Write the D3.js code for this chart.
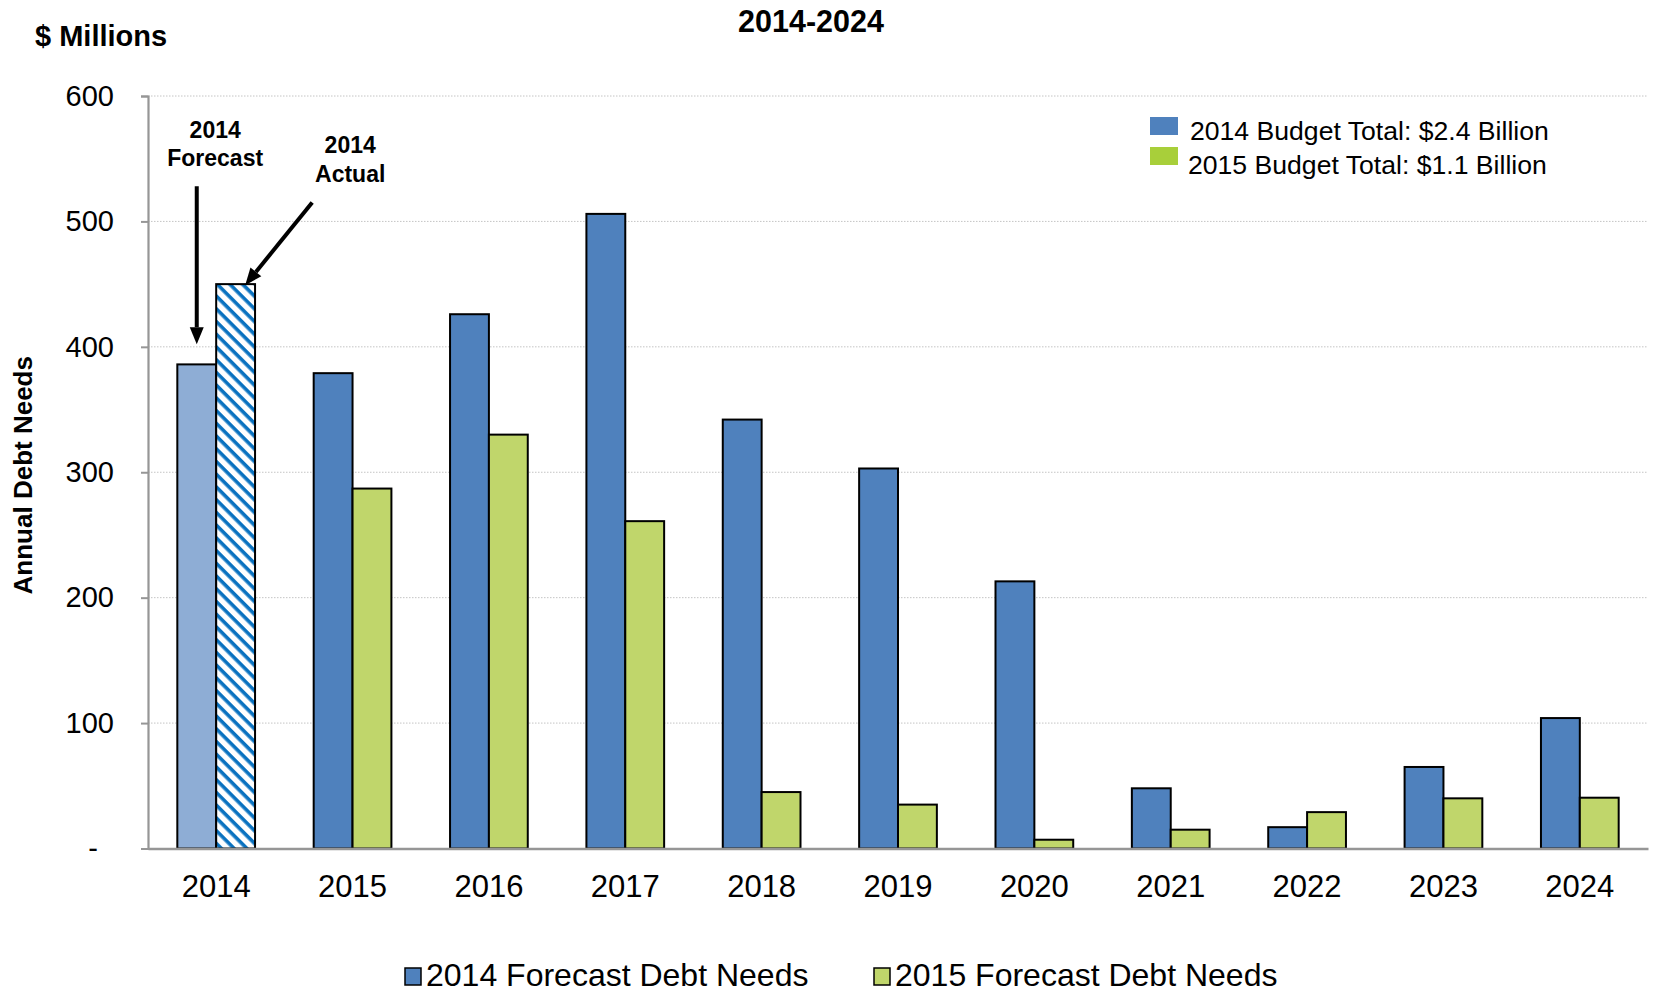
<!DOCTYPE html>
<html>
<head>
<meta charset="utf-8">
<script src="https://cdn.jsdelivr.net/npm/d3@7/dist/d3.min.js"></script>
<style>
  html, body { margin: 0; padding: 0; background: #fff; }
  svg { display: block; font-family: "Liberation Sans", Arial, sans-serif; }
</style>
</head>
<body>
<svg id="chart" width="1653" height="993"></svg>
<script>
// Annual debt needs, $ millions
const years = ["2014", "2015", "2016", "2017", "2018", "2019", "2020", "2021", "2022", "2023", "2024"];
const forecast2014 = [386, 379, 426, 506, 342, 303, 213, 48, 17, 65, 104];
const forecast2015 = [null, 287, 330, 261, 45, 35, 7, 15, 29, 40, 40.5];
const actual2014 = 450;
const yTicks = [0, 100, 200, 300, 400, 500, 600];
const seriesNames = ["2014 Forecast Debt Needs", "2015 Forecast Debt Needs"];
const budgetNotes = ["2014 Budget Total: $2.4 Billion", "2015 Budget Total: $1.1 Billion"];

const W = 1653, H = 993;
const margin = { top: 96, right: 5, bottom: 144.5, left: 148 };
const blue = "#4f81bd", lightBlue = "#8eadd5", green = "#c0d66b", brightGreen = "#a8cf3a", hatchBlue = "#0a72c0";

const svg = d3.select("#chart");

const defs = svg.append("defs");
const pat = defs.append("pattern")
  .attr("id", "hatch")
  .attr("patternUnits", "userSpaceOnUse")
  .attr("width", 9).attr("height", 9)
  .attr("patternTransform", "rotate(45)");
pat.append("rect").attr("width", 9).attr("height", 9).attr("fill", "#fff");
pat.append("rect").attr("width", 9).attr("height", 3.6).attr("fill", hatchBlue);

const x0 = d3.scaleBand()
  .domain(years)
  .range([margin.left, W - margin.right])
  .paddingInner(0.43)
  .paddingOuter(0.215);
const x1 = d3.scaleBand().domain(["a", "b"]).range([0, x0.bandwidth()]);
const y = d3.scaleLinear().domain([0, 600]).range([H - margin.bottom, margin.top]);

// gridlines
svg.append("g")
  .selectAll("line")
  .data(yTicks.filter(d => d > 0))
  .join("line")
  .attr("x1", margin.left).attr("x2", W - margin.right)
  .attr("y1", d => y(d)).attr("y2", d => y(d))
  .attr("stroke", "#c4c4c4")
  .attr("stroke-width", 1)
  .attr("stroke-dasharray", "1.5,1.5");

// bars
const rows = years.map((yr, i) => ({
  year: yr,
  a: forecast2014[i],
  b: i === 0 ? actual2014 : forecast2015[i],
  first: i === 0
}));

const groups = svg.append("g").selectAll("g")
  .data(rows)
  .join("g")
  .attr("transform", d => `translate(${x0(d.year)},0)`);

groups.append("rect")
  .attr("x", x1("a"))
  .attr("width", x1.bandwidth())
  .attr("y", d => y(d.a))
  .attr("height", d => y(0) - y(d.a))
  .attr("fill", d => d.first ? lightBlue : blue)
  .attr("stroke", "#000")
  .attr("stroke-width", 2);

groups.filter(d => d.b != null).append("rect")
  .attr("x", x1("b"))
  .attr("width", x1.bandwidth())
  .attr("y", d => y(d.b))
  .attr("height", d => y(0) - y(d.b))
  .attr("fill", d => d.first ? "url(#hatch)" : green)
  .attr("stroke", "#000")
  .attr("stroke-width", 2);

// y axis
const yAxis = svg.append("g")
  .attr("transform", `translate(${margin.left},0)`)
  .call(d3.axisLeft(y).tickValues(yTicks).tickSize(7).tickPadding(27)
    .tickFormat(d => d === 0 ? "-" : d));
yAxis.select(".domain").attr("stroke", "#969696").attr("stroke-width", 2.2);
yAxis.selectAll(".tick line").attr("stroke", "#969696").attr("stroke-width", 2);
yAxis.selectAll(".tick text")
  .attr("font-size", 29)
  .attr("fill", "#000")
  .attr("font-family", "Liberation Sans, Arial, sans-serif");
yAxis.selectAll(".tick").filter(d => d === 0).select("text")
  .attr("text-anchor", "middle").attr("x", 93 - margin.left);

// x axis
const xAxis = svg.append("g")
  .attr("transform", `translate(0,${y(0)})`)
  .call(d3.axisBottom(x0).tickSize(0).tickPadding(26));
xAxis.select(".domain").attr("stroke", "#969696").attr("stroke-width", 2.5);
xAxis.selectAll(".tick text")
  .attr("font-size", 31)
  .attr("fill", "#000")
  .attr("font-family", "Liberation Sans, Arial, sans-serif");

// titles
svg.append("text")
  .attr("x", (margin.left + W - margin.right) / 2 - 87)
  .attr("y", 32)
  .attr("text-anchor", "middle")
  .attr("font-size", 30.5).attr("font-weight", "bold")
  .text("2014-2024");
svg.append("text")
  .attr("x", 35).attr("y", 46)
  .attr("font-size", 29).attr("font-weight", "bold")
  .text("$ Millions");
svg.append("text")
  .attr("transform", `translate(32,${(y(0) + y(600)) / 2 + 3}) rotate(-90)`)
  .attr("text-anchor", "middle")
  .attr("font-size", 26).attr("font-weight", "bold")
  .text("Annual Debt Needs");

// annotations with arrows
function arrow(xs, ys, xe, ye) {
  const ang = Math.atan2(ye - ys, xe - xs);
  const len = 17, half = 7;
  const bx = xe - len * Math.cos(ang), by = ye - len * Math.sin(ang);
  svg.append("line")
    .attr("x1", xs).attr("y1", ys).attr("x2", bx).attr("y2", by)
    .attr("stroke", "#000").attr("stroke-width", 4);
  svg.append("path")
    .attr("d", `M${xe},${ye}L${bx - half * Math.sin(ang)},${by + half * Math.cos(ang)}L${bx + half * Math.sin(ang)},${by - half * Math.cos(ang)}Z`)
    .attr("fill", "#000");
}

const g0 = x0(years[0]);
const cx0 = g0 + x0.bandwidth() / 2;
const aCenter = g0 + x1("a") + x1.bandwidth() / 2;
const bLeft = g0 + x1("b");

const noteF = svg.append("text").attr("text-anchor", "middle")
  .attr("font-size", 23).attr("font-weight", "bold");
noteF.append("tspan").attr("x", cx0 - 1).attr("y", 138).text("2014");
noteF.append("tspan").attr("x", cx0 - 1).attr("y", 166).text("Forecast");

const noteA = svg.append("text").attr("text-anchor", "middle")
  .attr("font-size", 23).attr("font-weight", "bold");
noteA.append("tspan").attr("x", cx0 + 134).attr("y", 153).text("2014");
noteA.append("tspan").attr("x", cx0 + 134).attr("y", 182).text("Actual");

arrow(aCenter, y(528), aCenter, y(402));
arrow(cx0 + 96, y(515), bLeft + 29, y(actual2014) + 1);

// budget totals legend (top right)
const tl = svg.append("g");
[blue, brightGreen].forEach((c, i) => {
  tl.append("rect")
    .attr("x", 1150).attr("y", 117 + i * 30)
    .attr("width", 28).attr("height", 18)
    .attr("fill", c);
  tl.append("text")
    .attr("x", i === 0 ? 1190 : 1188).attr("y", 140 + i * 34)
    .attr("font-size", 26.6)
    .text(budgetNotes[i]);
});

// series legend (bottom)
const bl = svg.append("g");
[[blue, 405], [green, 874]].forEach(([c, lx], i) => {
  bl.append("rect")
    .attr("x", lx).attr("y", 968)
    .attr("width", 16).attr("height", 17)
    .attr("fill", c).attr("stroke", "#000").attr("stroke-width", 1.5);
  bl.append("text")
    .attr("x", lx + 21).attr("y", 986)
    .attr("font-size", 32)
    .text(seriesNames[i]);
});
</script>
</body>
</html>
